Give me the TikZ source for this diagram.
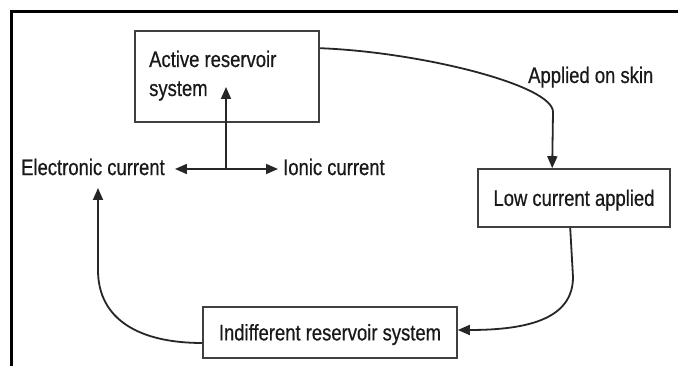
\documentclass[tikz,border=0pt]{standalone}
\usepackage{fontspec}
\setmainfont{Liberation Sans}[FakeStretch=0.82,FakeBold=0.6]
\usetikzlibrary{arrows.meta,calc}
\tikzset{
  box/.style={draw=black!75, line width=1.6pt, fill=none, inner sep=0pt,
    text height=15.75pt, text depth=0pt, font=\fontsize{22.5}{29}\selectfont, text=black!90},
  txt/.style={inner sep=0pt, font=\fontsize{22.5}{29}\selectfont, text=black!90},
  conn/.style={draw=black!85, line width=1.8pt},
  tip/.style={-{Triangle[length=12pt,width=10pt]}},
}
\begin{document}
\begin{tikzpicture}[x=1pt,y=-1pt]
\useasboundingbox (0,0) rectangle (678,366);
% frame
\draw[line width=3pt] (11,370) -- (11,12) -- (682,12);
% boxes
\node[box, minimum width=184pt, minimum height=91pt] (active) at (227,76.5) {};
\node[txt, anchor=base west] (activeA) at (149,67) {Active reservoir};
\node[txt, anchor=base west] (activeB) at (149,96) {system};
\node[box, minimum width=192pt, minimum height=58pt] (low) at (574,198) {Low current applied};
\node[box, minimum width=254pt, minimum height=51pt] (indiff) at (330,332.5) {Indifferent reservoir system};
% texts
\node[txt, anchor=west] (elec) at (21,167) {Electronic current};
\node[txt, anchor=west] (ionic) at (283,167) {Ionic current};
\node[txt, anchor=base west] (skin) at (528,83) {Applied on skin};
% coordinates
\coordinate (junc) at (226,169);
\coordinate (uptip) at (226,87);
\coordinate (elecup) at (98,188);
% connectors
\draw[conn, tip] (junc) -- (uptip);
\draw[conn, {Triangle[length=12pt,width=10pt]}-{Triangle[length=12pt,width=10pt]}]
  ($(elec.east)+(10,2)$) -- ($(ionic.west)+(-5,2)$);
\draw[conn, tip] ($(active.north east)+(0,18)$) .. controls (420,52) and (553,85) .. (553,112)
  -- ($(low.north west)+(75,0)$);
\draw[conn, tip] ($(low.south west)+(93,0)$) -- (573,277) .. controls (573,318) and (530,330)
  .. ($(indiff.east)+(0,-2.5)$);
\draw[conn, tip] ($(indiff.west)+(0,10.5)$) .. controls (140,343) and (98,320) .. (98,270)
  -- (elecup);
\end{tikzpicture}
\end{document}
